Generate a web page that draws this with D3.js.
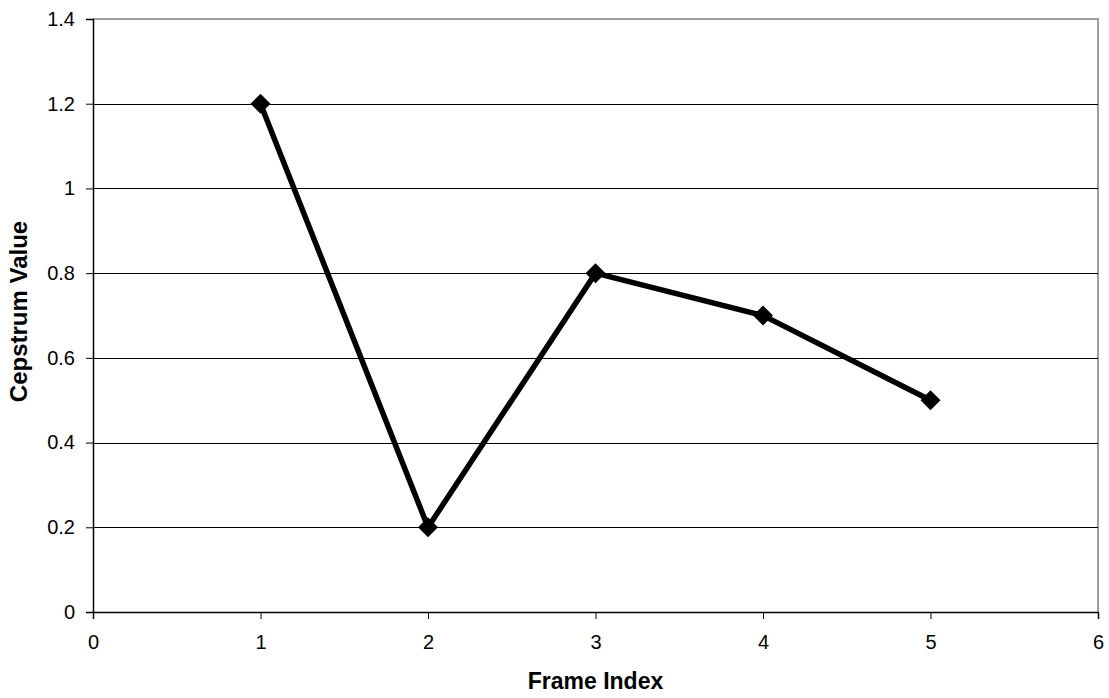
<!DOCTYPE html>
<html>
<head>
<meta charset="utf-8">
<script src="https://cdn.jsdelivr.net/npm/d3@7"></script>
<style>
  body { margin: 0; background: #fff; }
  svg { display: block; }
  text { font-family: "Liberation Sans", Arial, sans-serif; }
</style>
</head>
<body>
<svg id="chart" width="1109" height="698"></svg>
<script>
// Cepstrum value per frame
const frames = [1, 2, 3, 4, 5];
const cepstrum = [1.2, 0.2, 0.8, 0.7, 0.5];
const xTicks = [0, 1, 2, 3, 4, 5, 6];
const yTicks = [0, 0.2, 0.4, 0.6, 0.8, 1, 1.2, 1.4];

const svg = d3.select("#chart");
const plot = { left: 93, top: 19, right: 1098, bottom: 612 };

const x = d3.scaleLinear().domain([0, 6]).range([plot.left, plot.right]);
const y = d3.scaleLinear().domain([0, 1.4]).range([plot.bottom, plot.top]);

// plot area border (top and right in gray)
svg.append("path")
  .attr("d", `M${plot.left},${plot.top}H${plot.right}V${plot.bottom}`)
  .attr("fill", "none").attr("stroke", "#808080").attr("stroke-width", 1.5);

// horizontal gridlines
svg.append("g").selectAll("line")
  .data(yTicks.filter(v => v > 0 && v < 1.4))
  .join("line")
  .attr("x1", plot.left).attr("x2", plot.right)
  .attr("y1", d => Math.round(y(d)) + 0.5).attr("y2", d => Math.round(y(d)) + 0.5)
  .attr("stroke", "#000").attr("stroke-width", 1);

// y axis
const yAxis = svg.append("g")
  .attr("transform", `translate(${plot.left},0)`)
  .call(d3.axisLeft(y).tickValues(yTicks).tickSize(7).tickPadding(11)
    .tickFormat(d => String(+d.toFixed(1))));
yAxis.select(".domain").attr("stroke", "#000").attr("stroke-width", 1.5);
yAxis.selectAll(".tick line").attr("stroke", "#000");
yAxis.selectAll(".tick text").style("font-size", "20px").attr("fill", "#000");

// x axis
const xAxis = svg.append("g")
  .attr("transform", `translate(0,${plot.bottom})`)
  .call(d3.axisBottom(x).tickValues(xTicks).tickSize(7).tickPadding(16)
    .tickFormat(d3.format("d")));
xAxis.select(".domain").attr("stroke", "#000").attr("stroke-width", 1.5);
xAxis.selectAll(".tick line").attr("stroke", "#000");
xAxis.selectAll(".tick text").style("font-size", "20px").attr("fill", "#000");

// data line
const pts = frames.map((f, i) => [f, cepstrum[i]]);
svg.append("path")
  .datum(pts)
  .attr("fill", "none")
  .attr("stroke", "#000")
  .attr("stroke-width", 5.5)
  .attr("stroke-linejoin", "miter")
  .attr("d", d3.line().x(d => x(d[0])).y(d => y(d[1])));

// diamond markers
svg.append("g").selectAll("path")
  .data(pts)
  .join("path")
  .attr("transform", d => `translate(${x(d[0])},${y(d[1])})`)
  .attr("d", "M0,-10L10,0L0,10L-10,0Z")
  .attr("fill", "#000");

// axis titles
svg.append("text")
  .attr("x", (plot.left + plot.right) / 2).attr("y", 689)
  .attr("text-anchor", "middle")
  .style("font-size", "23px").attr("font-weight", "bold")
  .text("Frame Index");

svg.append("text")
  .attr("transform", `translate(27,311.5) rotate(-90)`)
  .attr("text-anchor", "middle")
  .style("font-size", "24px").attr("font-weight", "bold")
  .text("Cepstrum Value");
</script>
</body>
</html>
